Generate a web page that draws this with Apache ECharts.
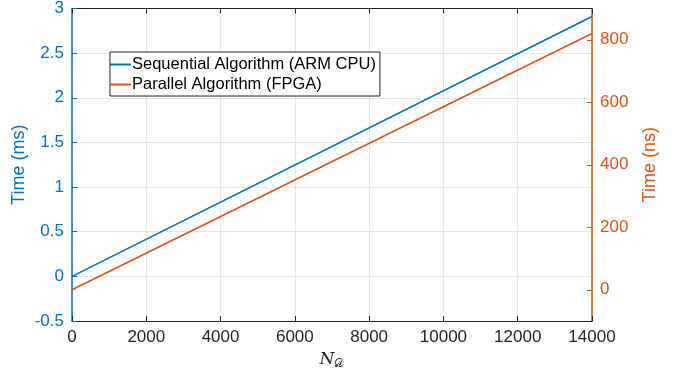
<!DOCTYPE html>
<html><head><meta charset="utf-8">
<script src="https://cdn.jsdelivr.net/npm/echarts@6/dist/echarts.min.js"></script>
<style>html,body{margin:0;padding:0;background:#fff}#c{width:675px;height:375px}</style>
</head><body><div id="c"></div>
<script>
const nValues = [0, 14000];
const sequentialMs = [0, 2.91];
const parallelNs = [0, 820];
const seriesNames = ['Sequential Algorithm (ARM CPU)', 'Parallel Algorithm (FPGA)'];
const rightTicks = [0, 200, 400, 600, 800];

const BLUE = '#0072BD', ORANGE = '#D95319';
const FONT = 'Liberation Sans';
const plain = v => String(v);
const chart = echarts.init(document.getElementById('c'));
chart.setOption({
  animation: false,
  grid: {left: 72, right: 83, top: 8, bottom: 53},
  legend: {
    data: seriesNames, orient: 'vertical', left: 110, top: 52,
    backgroundColor: '#fff', borderColor: '#262626', borderWidth: 1,
    padding: [4, 4, 3, 0], itemGap: 3, itemWidth: 21, itemHeight: 2, icon: 'rect',
    textStyle: {fontFamily: FONT, fontSize: 16.5, color: '#000', padding: [0, 0, 0, -4]}
  },
  xAxis: [{
    type: 'value', min: 0, max: 14000, interval: 2000,
    name: '{n|N}{s|𝒟}', nameLocation: 'middle', nameGap: 29,
    nameTextStyle: {rich: {
      n: {fontFamily: 'DejaVu Serif', fontStyle: 'italic', fontSize: 17, color: '#262626'},
      s: {fontFamily: 'DejaVu Sans', fontSize: 12, color: '#262626', verticalAlign: 'bottom', padding: [8, 0, 0, 0]}
    }},
    axisLine: {onZero: false, lineStyle: {color: '#262626', width: 1}},
    axisTick: {inside: true, length: 5, lineStyle: {color: '#262626'}},
    axisLabel: {fontFamily: FONT, fontSize: 17, color: '#262626', margin: 8, formatter: plain},
    splitLine: {show: true, lineStyle: {color: '#dfe6ee', width: 1}}
  }, {
    type: 'value', position: 'top', min: 0, max: 14000, interval: 2000,
    axisLine: {onZero: false, lineStyle: {color: '#262626', width: 1}},
    axisTick: {inside: true, length: 5, lineStyle: {color: '#262626'}},
    axisLabel: {show: false}, splitLine: {show: false}
  }],
  yAxis: [{
    type: 'value', min: -0.5, max: 3, interval: 0.5, position: 'left',
    name: 'Time (ms)', nameLocation: 'middle', nameRotate: 90, nameGap: 44, nameMoveOverlap: false,
    nameTextStyle: {fontFamily: FONT, fontSize: 18, color: BLUE},
    axisLine: {show: true, onZero: false, lineStyle: {color: BLUE, width: 1.5}},
    axisTick: {show: true, inside: true, length: 5, lineStyle: {color: BLUE}},
    axisLabel: {fontFamily: FONT, fontSize: 17, color: BLUE, margin: 8},
    splitLine: {show: true, lineStyle: {color: '#dfe6ee', width: 1}}
  }, {
    type: 'value', min: -100, max: 900, position: 'right',
    name: 'Time (ns)', nameLocation: 'middle', nameRotate: 90, nameGap: 49, nameMoveOverlap: false,
    nameTextStyle: {fontFamily: FONT, fontSize: 18, color: ORANGE},
    axisLine: {show: true, onZero: false, lineStyle: {color: ORANGE, width: 1.5}},
    axisTick: {show: true, inside: true, length: 5, customValues: rightTicks, lineStyle: {color: ORANGE}},
    axisLabel: {fontFamily: FONT, fontSize: 17, color: ORANGE, margin: 8, customValues: rightTicks},
    splitLine: {show: false}
  }],
  series: [{
    name: seriesNames[0], type: 'line', xAxisIndex: 0, yAxisIndex: 0, showSymbol: false,
    lineStyle: {color: BLUE, width: 1.6}, itemStyle: {color: BLUE},
    data: nValues.map((x, i) => [x, sequentialMs[i]])
  }, {
    name: seriesNames[1], type: 'line', xAxisIndex: 0, yAxisIndex: 1, showSymbol: false,
    lineStyle: {color: ORANGE, width: 1.6}, itemStyle: {color: ORANGE},
    data: nValues.map((x, i) => [x, parallelNs[i]])
  }]
});
</script></body></html>
